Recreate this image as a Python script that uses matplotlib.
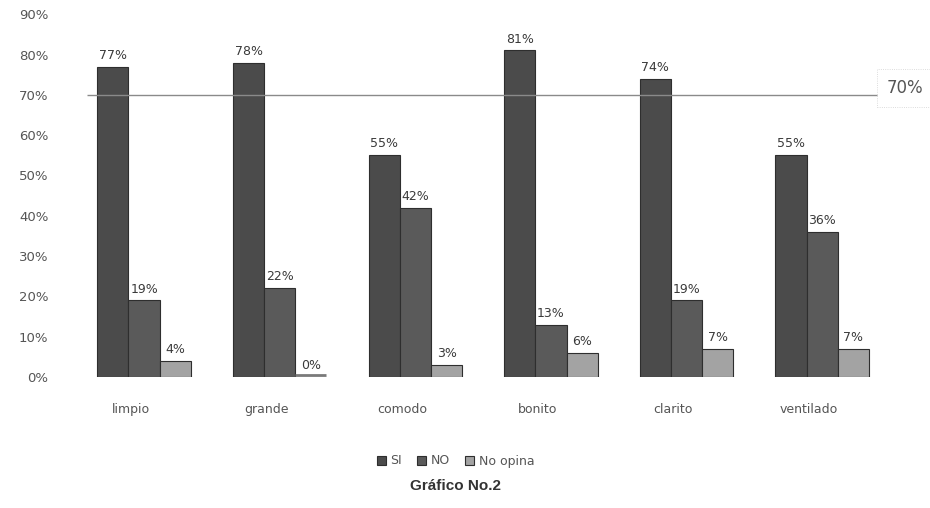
import numpy as np
import matplotlib.pyplot as plt
from matplotlib.ticker import FuncFormatter

# datos del gráfico
categorias = ["limpio", "grande", "comodo", "bonito", "clarito", "ventilado"]
si = [77, 78, 55, 81, 74, 55]
no = [19, 22, 42, 13, 19, 36]
no_opina = [4, 0, 3, 6, 7, 7]
series = ["SI", "NO", "No opina"]
colores = ["#4b4b4b", "#5a5a5a", "#a3a3a3"]
meta = 70

fig = plt.figure(figsize=(9.3, 5.08), dpi=100)
ax = fig.add_axes([0.082, 0.258, 0.875, 0.714])

x = np.arange(len(categorias))
ancho = 0.23
offsets = [-ancho, 0, ancho]

for vals, off, col, nom in zip([si, no, no_opina], offsets, colores, series):
    barras = ax.bar(x + off, vals, width=ancho, color=col, edgecolor="#2e2e2e",
                    linewidth=0.8, label=nom)
    for b, v in zip(barras, vals):
        ax.text(b.get_x() + b.get_width() / 2, v + 1.2, f"{v}%", ha="center",
                va="bottom", fontsize=9, color="#3a3a3a")

# base plana bajo las barras de valor cero
for xi, v in zip(x, no_opina):
    if v == 0:
        ax.hlines(0.4, xi + ancho / 2, xi + 1.5 * ancho, color="#7a7a7a", linewidth=2)

# línea de referencia
ax.hlines(meta, -0.42, 5.45, color="#8a8a8a", linewidth=1.0)
fig.text(0.993, 1 - 88 / 508, f"{meta}%", ha="right", va="center", fontsize=12,
         color="#555555",
         bbox=dict(boxstyle="square,pad=0.6", facecolor="white",
                   edgecolor="#d0d0d0", linewidth=0.6, linestyle=":"))

ax.set_xlim(-0.5, 5.5)
ax.set_ylim(0, 90)
ax.set_yticks(np.arange(0, 91, 10))
ax.yaxis.set_major_formatter(FuncFormatter(lambda v, p: f"{int(v)}%"))
ax.set_xticks(x - 0.1)
ax.set_xticklabels(categorias)
ax.tick_params(axis="both", length=0, labelsize=9, colors="#555555")
ax.tick_params(axis="y", labelsize=9.5, pad=20)
ax.tick_params(axis="x", pad=19)
for s in ax.spines.values():
    s.set_visible(False)

fig.legend(loc="center", bbox_to_anchor=(0.49, 1 - 461 / 508), ncol=3,
           frameon=False, fontsize=9, handlelength=0.7, handleheight=0.7,
           handletextpad=0.4, columnspacing=1.2, labelcolor="#555555")
fig.text(0.49, 1 - 486 / 508, "Gráfico No.2", ha="center", va="center",
         fontsize=11, fontweight="bold", family="Liberation Sans", color="#333333")

fig.savefig("out.png", dpi=100, facecolor="white")
